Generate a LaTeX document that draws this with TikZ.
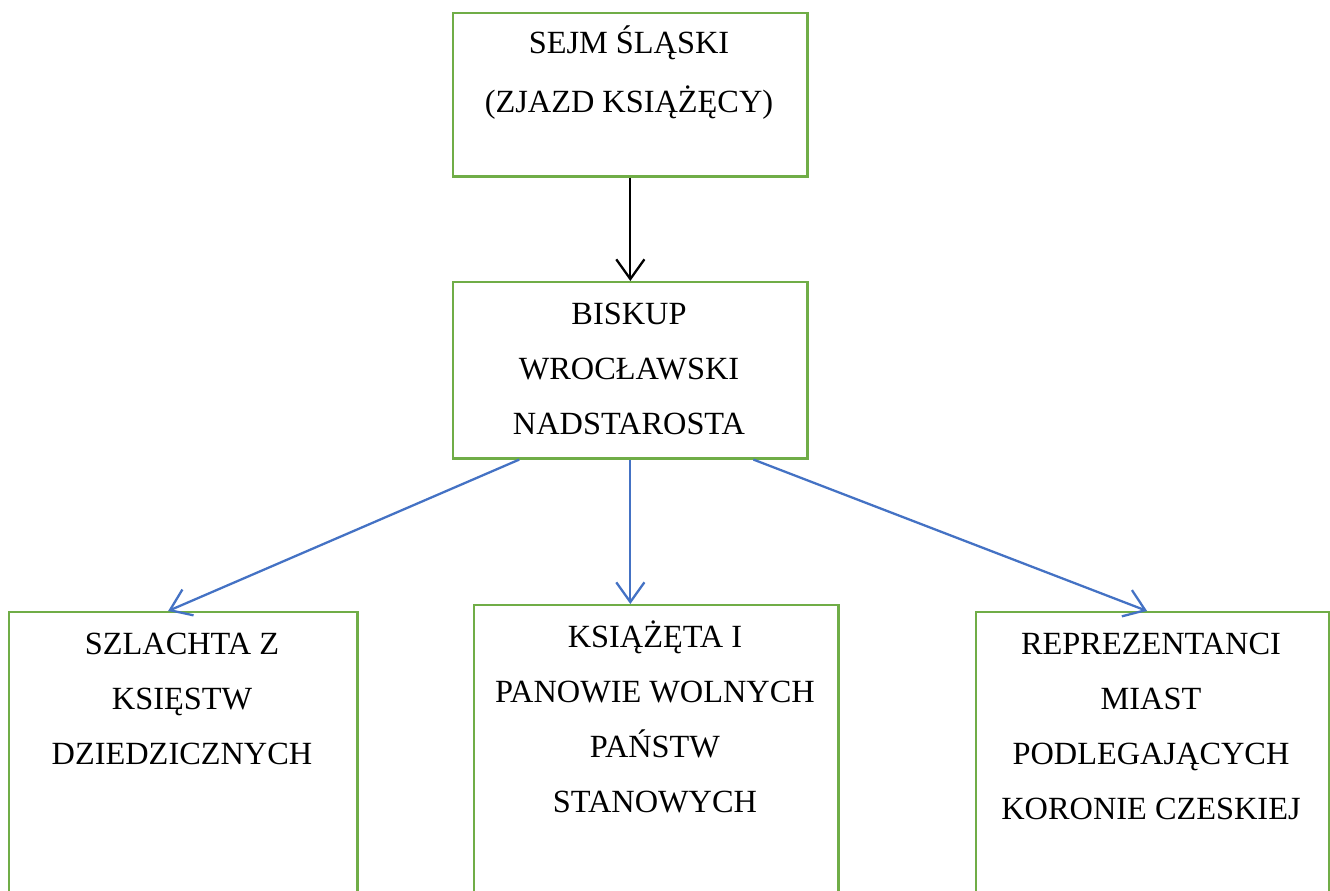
\documentclass[tikz,border=0pt]{standalone}
\usepackage{fontspec}
\setmainfont{Liberation Serif}
\usepackage{xcolor}
\usetikzlibrary{arrows.meta, positioning}
\definecolor{boxgreen}{HTML}{70AD47}
\definecolor{arrowblue}{HTML}{4472C4}

\begin{document}
\begin{tikzpicture}[x=0.01cm, y=-0.01cm,
        box/.style={rectangle, draw=boxgreen, line width=0.7pt, inner sep=0pt, anchor=north west},
        txt/.style={align=center, inner sep=0pt, anchor=north, font=\fontsize{9.2}{15.7}\selectfont},
        link/.style={line width=0.65pt, -{Straight Barb[length=5.6pt, width=8pt, line width=0.65pt]}},
        ]
        \clip (0,0) rectangle (1330,891);

        % ramki
        \node[box, minimum width=3.54cm, minimum height=1.63cm] (sejm) at (452,12) {};
        \node[box, minimum width=3.54cm, minimum height=1.76cm] (bisk) at (452,281) {};
        \node[box, minimum width=3.48cm, minimum height=3.2cm] (szl) at (8,611) {};
        \node[box, minimum width=3.64cm, minimum height=3.2cm] (ksi) at (473,604) {};
        \node[box, minimum width=3.53cm, minimum height=3.2cm] (rep) at (975,611) {};

        % napisy
        \node[txt, font=\fontsize{9.2}{16.7}\selectfont] (sejmtxt) at (629,12) {\strut SEJM ŚLĄSKI\\\strut (ZJAZD KSIĄŻĘCY)};
        \node[txt] (bisktxt) at (629,285) {\strut BISKUP\\\strut WROCŁAWSKI\\\strut NADSTAROSTA};
        \node[txt] (szltxt) at (182,615) {\strut SZLACHTA Z\\\strut KSIĘSTW\\\strut DZIEDZICZNYCH};
        \node[txt] (ksitxt) at (655,608) {\strut KSIĄŻĘTA I\\\strut PANOWIE WOLNYCH\\\strut PAŃSTW\\\strut STANOWYCH};
        \node[txt] (reptxt) at (1151,615) {\strut REPREZENTANCI\\\strut MIAST\\\strut PODLEGAJĄCYCH\\\strut KORONIE CZESKIEJ};

        \draw[link] (sejm.south) -- (bisk.north);
        \draw[link, arrowblue] ([xshift=-1.11cm]bisk.south) -- ([xshift=1.6cm]szl.north west);
        \draw[link, arrowblue] (bisk.south) -- (bisk.south |- ksi.north);
        \draw[link, arrowblue] ([xshift=1.23cm]bisk.south) -- ([xshift=1.72cm]rep.north west);

\end{tikzpicture}
\end{document}
